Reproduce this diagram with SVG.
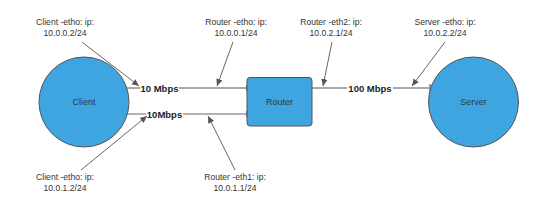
<svg xmlns="http://www.w3.org/2000/svg" width="533" height="212" viewBox="0 0 533 212">
<style>
.node{fill:#3ea5e0;stroke:#555;stroke-width:1}
.nl{font-family:"Liberation Sans",Arial,sans-serif;font-size:9px;fill:#2b3a4a;text-anchor:middle}
.ann{font-family:"Liberation Sans",Arial,sans-serif;font-size:8.6px;fill:#333;text-anchor:middle}
.bw{font-family:"Liberation Sans",Arial,sans-serif;font-size:9.5px;font-weight:bold;fill:#222;text-anchor:middle}
.link{stroke:#555;stroke-width:1;fill:none}
.arr{stroke:#555;stroke-width:0.9;fill:none;marker-end:url(#ah)}
</style>
<defs>
<marker id="ah" markerWidth="8" markerHeight="8" refX="7" refY="4" orient="auto" markerUnits="userSpaceOnUse">
<path d="M0,0.8 L7,4 L0,7.2 Z" fill="#555"/>
</marker>
</defs>
<rect width="533" height="212" fill="#fff"/>
<g id="connectors">
<line class="link" x1="127" y1="88" x2="247" y2="88"/>
<line x1="127" y1="114" x2="247" y2="114" stroke="#999" stroke-width="1.6"/>
<line class="link" x1="312" y1="88" x2="429" y2="88"/>
<rect x="140" y="82" width="39" height="12" fill="#fff"/>
<text class="bw" x="159.5" y="91.5">10 Mbps</text>
<rect x="146" y="108" width="37" height="12" fill="#fff"/>
<text class="bw" x="164.5" y="117.5">10Mbps</text>
<rect x="347" y="82" width="46" height="12" fill="#fff"/>
<text class="bw" x="370" y="91.5">100 Mbps</text>
<line x1="247" y1="85" x2="247" y2="91" stroke="#555" stroke-width="1.5"/>
<line x1="247" y1="111" x2="247" y2="117" stroke="#555" stroke-width="1.5"/>
<line x1="430" y1="84" x2="430" y2="91" stroke="#555" stroke-width="1.2"/>
<path class="arr" d="M82,42 L139,86"/>
<path class="arr" d="M81,170 L147,116"/>
<path class="arr" d="M233,42 L217,86"/>
<path class="arr" d="M235,170 L208,116"/>
<path class="arr" d="M332,42 L323,86"/>
<path class="arr" d="M445,42 L412,86"/>
</g>
<g id="client">
<circle class="node" cx="84" cy="102" r="45"/>
<text class="nl" x="84" y="105">Client</text>
</g>
<g id="router">
<rect class="node" x="247" y="77.5" width="65" height="48.5" rx="3"/>
<text class="nl" x="279.5" y="104.5">Router</text>
</g>
<g id="server">
<circle class="node" cx="473.5" cy="102" r="45"/>
<text class="nl" x="473.5" y="105">Server</text>
</g>
<g id="labels">
<text class="ann" x="65" y="25">Client -etho: ip:</text>
<text class="ann" x="65" y="36">10.0.0.2/24</text>
<text class="ann" x="65" y="180">Client -etho: ip:</text>
<text class="ann" x="65" y="191">10.0.1.2/24</text>
<text class="ann" x="236" y="25">Router -etho: ip:</text>
<text class="ann" x="236" y="36">10.0.0.1/24</text>
<text class="ann" x="235" y="180">Router -eth1: ip:</text>
<text class="ann" x="235" y="191">10.0.1.1/24</text>
<text class="ann" x="331" y="25">Router -eth2: ip:</text>
<text class="ann" x="331" y="36">10.0.2.1/24</text>
<text class="ann" x="445" y="25">Server -etho: ip:</text>
<text class="ann" x="445" y="36">10.0.2.2/24</text>
</g>
</svg>
